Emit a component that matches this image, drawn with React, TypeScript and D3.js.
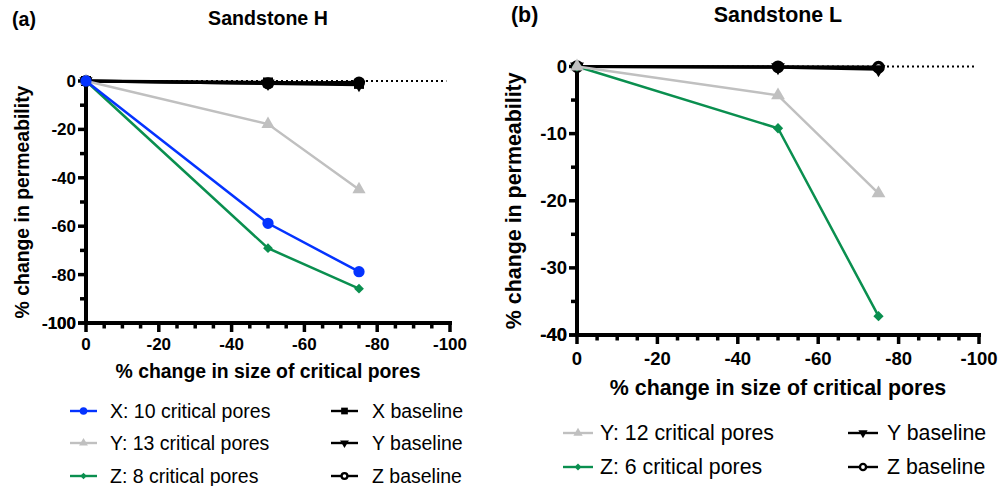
import React from 'react';
import * as d3 from 'd3';

// x values shared by every series (% change in size of critical pores)
const poreChange = [0, -50, -75];

// Sandstone H
const hX10 = [0, -58.8, -78.8];
const hY13 = [0, -17.8, -44.8];
const hZ8 = [0, -69.1, -85.8];
const hXBase = [0, -0.6, -1.2];
const hYBase = [0, -1, -1.5];
const hZBase = [0, -1, -0.6];

// Sandstone L
const lY12 = [0, -4.3, -18.9];
const lZ6 = [0, -9.2, -37.2];
const lYBase = [0, -0.1, -0.4];
const lZBase = [0, -0.05, -0.1];

const xTicks = [0, -20, -40, -60, -80, -100];

const BLUE = '#0433ff';
const GREY = '#c0c0c0';
const GREEN = '#0a8f4f';
const FONT = '"Liberation Sans", Arial, Helvetica, sans-serif';

type Shape = 'circle' | 'triangle' | 'diamond' | 'square' | 'down' | 'open';

type Series = { label: string; values: number[]; color: string; shape: Shape };

function markerPath(shape: Shape, size: number) {
  const type = shape === 'circle' || shape === 'open' ? d3.symbolCircle
    : shape === 'square' || shape === 'diamond' ? d3.symbolSquare
    : d3.symbolTriangle;
  return d3.symbol().type(type).size(size)() as string;
}

function Marker({ shape, color, x, y, scale }: { shape: Shape; color: string; x: number; y: number; scale: number }) {
  const sizes: Record<Shape, number> = { circle: 100, triangle: 75, diamond: 48, square: 100, down: 75, open: 60 };
  const rot = shape === 'diamond' ? 45 : shape === 'down' ? 180 : 0;
  return (
    <path
      d={markerPath(shape, sizes[shape] * scale)}
      transform={`translate(${x},${y}) rotate(${rot})`}
      fill={shape === 'open' ? '#fff' : color}
      stroke={shape === 'open' ? color : 'none'}
      strokeWidth={shape === 'open' ? 3.4 * Math.sqrt(scale) : 0}
    />
  );
}

type PanelProps = {
  tag: string; title: string;
  left: number; right: number; top: number; bottom: number;
  yMin: number; yStep: number; yMinor: number;
  tickFont: number; axisFont: number; legendFont: number; titleFont: number;
  tagX: number; tagY: number; titleY: number;
  xLabelY: number; xTitleY: number; yTitleX: number;
  data: Series[]; baselines: Series[];
  legendLeft: Series[]; legendRight: Series[];
  legendRows: number[]; legendCols: number[][];
  k: number;
};

function Panel(p: PanelProps) {
  const x = d3.scaleLinear().domain([0, -100]).range([p.left, p.right]);
  const y = d3.scaleLinear().domain([0, p.yMin]).range([p.top, p.bottom]);
  const yTicks = d3.range(0, p.yMin - 0.001, -p.yStep);
  const yMinorTicks = d3.range(0, p.yMin - 0.001, -p.yMinor);
  const xMinorTicks = d3.range(0, -100.001, -5);
  const line = d3.line<number>().x((_, i) => x(poreChange[i])).y((v) => y(v));
  // first series ends up on top, baselines underneath
  const all = [...p.baselines.slice().reverse(), ...p.data.slice().reverse()];

  return (
    <g fontFamily={FONT}>
      <text x={p.tagX} y={p.tagY} fontSize={p.titleFont} fontWeight="bold">{p.tag}</text>
      <text x={(p.left + p.right) / 2} y={p.titleY} fontSize={p.titleFont} fontWeight="bold" textAnchor="middle">{p.title}</text>

      {/* dotted zero line */}
      <line x1={x(0)} x2={x(-99)} y1={y(0)} y2={y(0)} stroke="#000" strokeWidth={1.8} strokeDasharray="2,3" />

      {/* axes */}
      <line x1={p.left} x2={p.left} y1={y(0) - 1} y2={p.bottom + 2} stroke="#000" strokeWidth={4} />
      <line x1={p.left - 2} x2={p.right + 2} y1={p.bottom} y2={p.bottom} stroke="#000" strokeWidth={4} />
      {yMinorTicks.map((t) => (
        <line key={'ym' + t} x1={p.left} x2={p.left - (t % p.yStep === 0 ? 8 : 6)} y1={y(t)} y2={y(t)} stroke="#000" strokeWidth={3.5} />
      ))}
      <line x1={p.left} x2={p.left - 8} y1={p.bottom} y2={p.bottom} stroke="#000" strokeWidth={3.5} />
      {xMinorTicks.map((t) => (
        <line key={'xm' + t} x1={x(t)} x2={x(t)} y1={p.bottom} y2={p.bottom + (t % 20 === 0 ? 9 : 5.5)} stroke="#000" strokeWidth={3.5} />
      ))}
      {[...yTicks, p.yMin].map((t) => (
        <text key={'yl' + t} x={p.left - 10} y={y(t)} dy="0.35em" textAnchor="end" fontSize={p.tickFont} fontWeight="bold">{t}</text>
      ))}
      {xTicks.map((t) => (
        <text key={'xl' + t} x={x(t)} y={p.xLabelY} textAnchor="middle" fontSize={p.tickFont} fontWeight="bold">{t}</text>
      ))}
      <text x={(p.left + p.right) / 2} y={p.xTitleY} textAnchor="middle" fontSize={p.axisFont} fontWeight="bold">% change in size of critical pores</text>
      <text transform={`translate(${p.yTitleX},${(p.top + p.bottom) / 2}) rotate(-90)`} textAnchor="middle" fontSize={p.axisFont} fontWeight="bold">% change in permeability</text>

      {/* series */}
      {all.map((s) => (
        <g key={s.label}>
          <path d={line(s.values) as string} fill="none" stroke={s.color} strokeWidth={s.color === '#000' ? 3.2 : 2.5} />
          {s.values.map((v, i) => (
            <Marker key={i} shape={s.shape} color={s.color} x={x(poreChange[i])} y={y(v)} scale={p.k} />
          ))}
        </g>
      ))}

      {/* legend */}
      {[p.legendLeft, p.legendRight].map((col, ci) => col.map((s, ri) => {
        const [l1, l2, tx] = p.legendCols[ci];
        const ry = p.legendRows[ri + (p.legendRows.length - col.length)];
        return (
          <g key={s.label + 'lg'}>
            <line x1={l1} x2={l2} y1={ry} y2={ry} stroke={s.color} strokeWidth={2.4} />
            <Marker shape={s.shape} color={s.color} x={(l1 + l2) / 2} y={ry} scale={0.45 * p.k} />
            <text x={tx} y={ry} dy="0.35em" fontSize={p.legendFont}>{s.label}</text>
          </g>
        );
      }))}
    </g>
  );
}

export default function App() {
  const hData: Series[] = [
    { label: 'X: 10 critical pores', values: hX10, color: BLUE, shape: 'circle' },
    { label: 'Y: 13 critical pores', values: hY13, color: GREY, shape: 'triangle' },
    { label: 'Z: 8 critical pores', values: hZ8, color: GREEN, shape: 'diamond' },
  ];
  const hBase: Series[] = [
    { label: 'X baseline', values: hXBase, color: '#000', shape: 'square' },
    { label: 'Y baseline', values: hYBase, color: '#000', shape: 'down' },
    { label: 'Z baseline', values: hZBase, color: '#000', shape: 'open' },
  ];
  const lData: Series[] = [
    { label: 'Y: 12 critical pores', values: lY12, color: GREY, shape: 'triangle' },
    { label: 'Z: 6 critical pores', values: lZ6, color: GREEN, shape: 'diamond' },
  ];
  const lBase: Series[] = [
    { label: 'Y baseline', values: lYBase, color: '#000', shape: 'down' },
    { label: 'Z baseline', values: lZBase, color: '#000', shape: 'open' },
  ];

  return (
    <svg width={1003} height={486} style={{ position: 'absolute', left: 0, top: 0, background: '#fff' }}>
      <Panel
        tag="(a)" title="Sandstone H"
        left={86} right={450} top={81} bottom={323}
        yMin={-100} yStep={20} yMinor={10}
        tickFont={17} axisFont={19.4} legendFont={19.5} titleFont={19.6}
        tagX={12} tagY={26} titleY={25}
        xLabelY={350} xTitleY={378} yTitleX={29}
        data={hData} baselines={hBase}
        legendLeft={hData} legendRight={hBase}
        legendRows={[411, 443, 476]}
        legendCols={[[70, 97, 110], [331, 358, 372]]}
        k={1}
      />
      <Panel
        tag="(b)" title="Sandstone L"
        left={577} right={979} top={66.5} bottom={335}
        yMin={-40} yStep={10} yMinor={5}
        tickFont={18.5} axisFont={21.4} legendFont={21.3} titleFont={21.4}
        tagX={511} tagY={22} titleY={22}
        xLabelY={365} xTitleY={395} yTitleX={521}
        data={lData} baselines={lBase}
        legendLeft={lData} legendRight={lBase}
        legendRows={[433, 467]}
        legendCols={[[563, 593, 600], [848, 878, 887]]}
        k={1.1}
      />
    </svg>
  );
}
